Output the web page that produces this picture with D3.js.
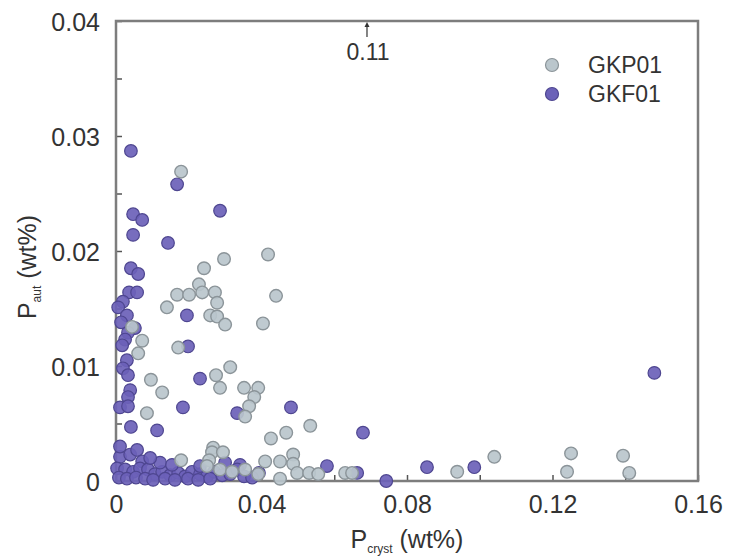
<!DOCTYPE html>
<html>
<head>
<meta charset="utf-8">
<script src="https://cdn.jsdelivr.net/npm/d3@7"></script>
<style>
  body { margin: 0; background: #fff; }
  text { font-family: "Liberation Sans", Arial, sans-serif; fill: #333; }
</style>
</head>
<body>
<div id="chart"></div>
<script>
// series names (legend order)
var seriesNames = ["GKP01", "GKF01"];

// GKP01 (grey) P_cryst / P_aut in wt%
var gkp01X = [0.0179,0.0418,0.0297,0.0242,0.0440,0.0228,0.0237,0.0272,0.0278,0.0168,
  0.0201,0.0140,0.0259,0.0278,0.0300,0.0404,0.0314,0.0275,0.0286,0.0352,
  0.0391,0.0380,0.0366,0.0355,0.0534,0.0468,0.0426,0.0171,0.0072,0.0061,
  0.0096,0.0127,0.0085,0.0044,0.0267,0.0264,0.0294,0.0179,0.0256,0.0250,
  0.0286,0.0410,0.0451,0.0487,0.0487,0.0498,0.0451,0.0531,0.0556,0.0630,
  0.0649,0.0938,0.1040,0.1251,0.1240,0.1394,0.1411,0.0319,0.0355,0.0391];
var gkp01Y = [0.0269,0.0197,0.0193,0.0185,0.0161,0.0171,0.0164,0.0164,0.0155,0.0162,
  0.0162,0.0151,0.0144,0.0143,0.0136,0.0137,0.0099,0.0092,0.0081,0.0081,
  0.0081,0.0073,0.0065,0.0056,0.0048,0.0042,0.0037,0.0116,0.0122,0.0111,
  0.0088,0.0077,0.0059,0.0134,0.0029,0.0025,0.0025,0.0018,0.0018,0.0013,
  0.0010,0.0017,0.0017,0.0023,0.0015,0.0007,0.0002,0.0007,0.0006,0.0007,
  0.0007,0.0008,0.0021,0.0024,0.0008,0.0022,0.0007,0.0008,0.0010,0.0006];

// GKF01 (purple)
var gkf01X = [0.0041,0.0168,0.0286,0.0047,0.0072,0.0047,0.0143,0.0041,0.0061,0.0036,
  0.0058,0.0019,0.0006,0.0195,0.0030,0.0052,0.0033,0.0025,0.0030,0.0019,
  0.0033,0.0039,0.0033,0.0011,0.0033,0.0041,0.0113,0.0184,0.0198,0.0231,
  0.0333,0.0481,0.0679,0.1480,0.0855,0.0985,0.0743,0.0663,0.0580,0.0393,
  0.0300,0.0341,0.0014,0.0017,
  0.0011,0.0039,0.0058,0.0072,0.0003,0.0025,0.0047,0.0066,0.0088,0.0107,
  0.0127,0.0149,0.0171,0.0190,0.0209,0.0231,0.0250,0.0270,0.0292,0.0314,
  0.0333,0.0352,0.0008,0.0030,0.0055,0.0080,0.0102,0.0135,0.0162,0.0198,
  0.0226,0.0259,0.0121,0.0154,0.0231,0.0374,0.0011,0.0094];
var gkf01Y = [0.0287,0.0258,0.0235,0.0232,0.0227,0.0214,0.0207,0.0185,0.0180,0.0164,
  0.0164,0.0156,0.0151,0.0144,0.0144,0.0133,0.0129,0.0123,0.0105,0.0098,
  0.0092,0.0079,0.0073,0.0064,0.0065,0.0047,0.0044,0.0064,0.0117,0.0089,
  0.0059,0.0064,0.0042,0.0094,0.0012,0.0012,0.0000,0.0007,0.0013,0.0007,
  0.0016,0.0014,0.0138,0.0118,
  0.0021,0.0023,0.0027,0.0017,0.0011,0.0010,0.0008,0.0011,0.0010,0.0006,
  0.0008,0.0005,0.0007,0.0004,0.0008,0.0006,0.0004,0.0008,0.0005,0.0006,
  0.0010,0.0004,0.0003,0.0002,0.0003,0.0002,0.0001,0.0002,0.0001,0.0002,
  0.0001,0.0002,0.0016,0.0014,0.0013,0.0003,0.0030,0.0020];

// off-scale point marked by an arrow
var offX = 0.069, offLabel = "0.11";

var xTicks = [0, 0.04, 0.08, 0.12, 0.16];
var yTicks = [0, 0.01, 0.02, 0.03, 0.04];

// set the dimensions and margins of the graph
var margin = { top: 21, right: 33, bottom: 76, left: 116 },
    width = 731 - margin.left - margin.right,
    height = 557 - margin.top - margin.bottom;

var svg = d3.select("#chart")
    .append("svg")
    .attr("width", 731)
    .attr("height", 557)
    .append("g")
    .attr("transform", "translate(" + margin.left + "," + margin.top + ")");

var x = d3.scaleLinear().domain([0, 0.16]).range([0, width]);
var y = d3.scaleLinear().domain([0, 0.04]).range([height, 0]);

var fmt = function(d) { return d === 0 ? "0" : d3.format(".2f")(d); };
var axisColor = "#7d7d7d";

// minor ticks (inward)
svg.append("g")
    .attr("transform", "translate(0," + height + ")")
    .call(d3.axisBottom(x).tickValues(d3.range(0, 0.1601, 0.02)).tickSize(-6).tickFormat(""))
    .call(function(g) { g.select(".domain").remove(); });
svg.append("g")
    .call(d3.axisLeft(y).tickValues(d3.range(0, 0.0401, 0.005)).tickSize(-6).tickFormat(""))
    .call(function(g) { g.select(".domain").remove(); });
svg.selectAll(".tick line").attr("stroke", "#555").attr("stroke-width", 1.5);

// major tick labels
var xAxis = svg.append("g")
    .attr("transform", "translate(0," + height + ")")
    .call(d3.axisBottom(x).tickValues(xTicks).tickSize(0).tickPadding(14).tickFormat(fmt));
xAxis.select(".domain").remove();
xAxis.selectAll("text").style("font-size", "25px").attr("fill", "#333");

var yAxis = svg.append("g")
    .call(d3.axisLeft(y).tickValues(yTicks).tickSize(0).tickPadding(16).tickFormat(fmt));
yAxis.select(".domain").remove();
yAxis.selectAll("text").style("font-size", "25px").attr("fill", "#333").attr("dy", "0.36em");

// frame
svg.append("rect")
    .attr("width", width)
    .attr("height", height)
    .attr("fill", "none")
    .attr("stroke", axisColor)
    .attr("stroke-width", 2.5);

// points
var gkf = gkf01X.map(function(d, i) { return { x: d, y: gkf01Y[i] }; });
var gkp = gkp01X.map(function(d, i) { return { x: d, y: gkp01Y[i] }; });

var colors = {
  GKP01: { fill: "#bac6cc", stroke: "#8b9499" },
  GKF01: { fill: "#6b61b8", stroke: "#4e4690" }
};

svg.append("g").selectAll("circle")
    .data(gkf)
    .enter().append("circle")
    .attr("cx", function(d) { return x(d.x); })
    .attr("cy", function(d) { return y(d.y); })
    .attr("r", 6.3)
    .attr("fill", colors.GKF01.fill)
    .attr("fill-opacity", 0.92)
    .attr("stroke", colors.GKF01.stroke)
    .attr("stroke-width", 1.2);

svg.append("g").selectAll("circle")
    .data(gkp)
    .enter().append("circle")
    .attr("cx", function(d) { return x(d.x); })
    .attr("cy", function(d) { return y(d.y); })
    .attr("r", 6.3)
    .attr("fill", colors.GKP01.fill)
    .attr("fill-opacity", 0.92)
    .attr("stroke", colors.GKP01.stroke)
    .attr("stroke-width", 1.4);

// off-scale arrow
svg.append("line")
    .attr("x1", x(offX)).attr("x2", x(offX))
    .attr("y1", 16).attr("y2", 3)
    .attr("stroke", "#333").attr("stroke-width", 1.2);
svg.append("path")
    .attr("d", "M" + (x(offX) - 2.5) + ",6L" + x(offX) + ",1L" + (x(offX) + 2.5) + ",6Z")
    .attr("fill", "#333");
svg.append("text")
    .attr("x", x(offX) + 1)
    .attr("y", 39)
    .attr("text-anchor", "middle")
    .style("font-size", "23px")
    .text(offLabel);

// legend
var legend = svg.append("g").attr("transform", "translate(436,44)");
seriesNames.forEach(function(name, i) {
  legend.append("circle")
      .attr("cx", 0).attr("cy", i * 29)
      .attr("r", 6.5)
      .attr("fill", colors[name].fill)
      .attr("stroke", colors[name].stroke)
      .attr("stroke-width", 1.2);
  legend.append("text")
      .attr("x", 36).attr("y", i * 29)
      .attr("dy", "0.36em")
      .style("font-size", "23px")
      .text(name);
});

// axis titles
var xt = svg.append("text")
    .attr("x", width / 2)
    .attr("y", height + 67)
    .attr("text-anchor", "middle")
    .style("font-size", "25px");
xt.append("tspan").text("P");
xt.append("tspan").attr("dy", 5).style("font-size", "12px").text("cryst");
xt.append("tspan").attr("dy", -5).text(" (wt%)");

var yt = svg.append("text")
    .attr("transform", "translate(" + (-80) + "," + (height / 2 + 16) + ") rotate(-90)")
    .attr("text-anchor", "middle")
    .style("font-size", "25px");
yt.append("tspan").text("P");
yt.append("tspan").attr("dy", 5).style("font-size", "12px").text("aut");
yt.append("tspan").attr("dy", -5).text(" (wt%)");
</script>
</body>
</html>
